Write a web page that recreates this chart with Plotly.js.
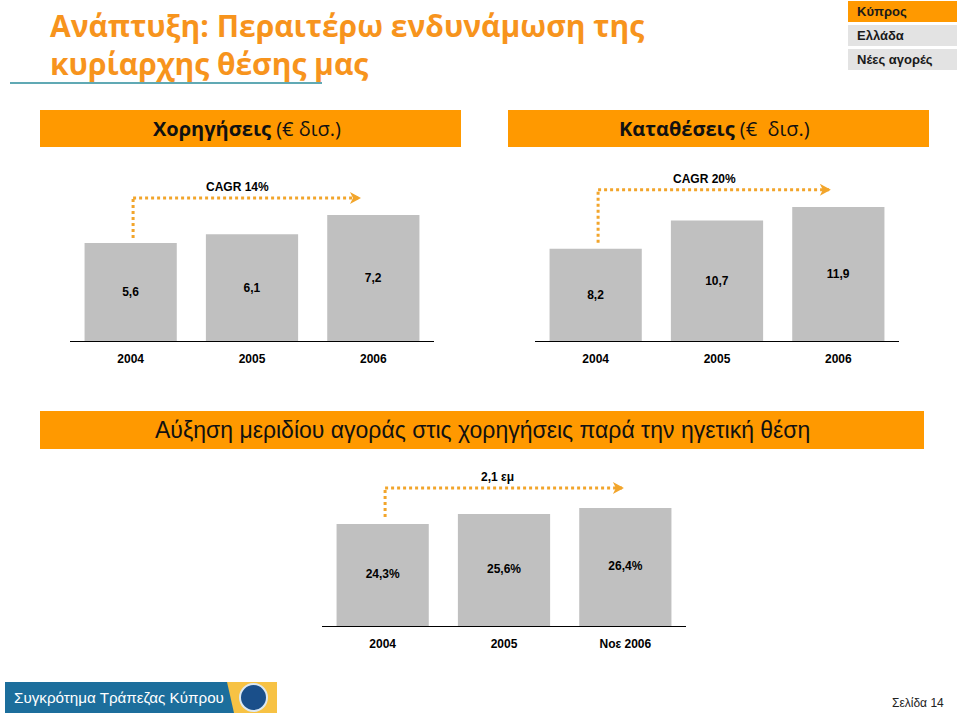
<!DOCTYPE html>
<html><head><meta charset="utf-8">
<script src="https://cdn.plot.ly/plotly-3.0.1.min.js"></script>
<style>html,body{margin:0;padding:0;background:#fff;}#chart{width:960px;height:715px;}</style>
</head><body><div id="chart"></div>
<script>
// ---- data ----
const loanYears = ['2004', '2005', '2006'];
const loanValues = [5.6, 6.1, 7.2];
const depositYears = ['2004', '2005', '2006'];
const depositValues = [8.2, 10.7, 11.9];
const shareYears = ['2004', '2005', 'Νοε 2006'];
const shareValues = [24.3, 25.6, 26.4];
const shareAxisBase = 10.9;
const growthLabels = ['CAGR 14%', 'CAGR 20%', '2,1 εμ'];
const titleLines = ['Ανάπτυξη: Περαιτέρω ενδυνάμωση της', 'κυρίαρχης θέσης μας'];
const navItems = ['Κύπρος', 'Ελλάδα', 'Νέες αγορές'];
const panelTitles = ['<b>Χορηγήσεις</b> (€ δισ.)', '<b>Καταθέσεις</b> (€  δισ.)', 'Αύξηση μεριδίου αγοράς στις χορηγήσεις παρά την ηγετική θέση'];
const footerText = 'Συγκρότημα Τράπεζας Κύπρου';
const pageText = 'Σελίδα 14';

// ---- layout helpers ----
const W = 960, H = 715;
const fx = v => v / W;
const fy = v => 1 - v / H;
const ORANGE = '#FF9900';
const GREY = '#C0C0C0';
const DOT = '#F2A52B';
const fmt = (v, suf) => v.toFixed(1).replace('.', ',') + (suf || '');
const LABEL_FONT = {family: 'Liberation Sans, Arial, sans-serif', size: 12, color: '#000', weight: 'bold'};

function barTrace(x, y, xa, ya, suf, withText) {
  const t = {
    type: 'bar', x: x, y: y, xaxis: xa, yaxis: ya,
    marker: {color: GREY, line: {width: 0}},
    hoverinfo: 'skip', cliponaxis: true
  };
  if (withText) {
    t.text = y.map(v => fmt(v, suf));
    t.textposition = 'inside';
    t.insidetextanchor = 'middle';
    t.textfont = LABEL_FONT;
    t.constraintext = 'none';
  } else {
    t.textposition = 'none';
  }
  return t;
}

const data = [
  barTrace(loanYears, loanValues, 'x', 'y', '', true),
  barTrace(depositYears, depositValues, 'x2', 'y2', '', true),
  barTrace(shareYears, shareValues, 'x3', 'y3', '%', false),
  {type: 'scatter', mode: 'text', x: shareYears, y: shareValues.map(v => (v + shareAxisBase) / 2),
   text: shareValues.map(v => fmt(v, '%')), textfont: LABEL_FONT, xaxis: 'x3', yaxis: 'y3', hoverinfo: 'skip', cliponaxis: false}
];

function xAxis(dom, anchor) {
  return {
    domain: dom, anchor: anchor, type: 'category', showgrid: false, zeroline: false,
    showline: true, linecolor: '#000', linewidth: 1,
    ticks: 'outside', ticklen: 7, tickcolor: 'rgba(0,0,0,0)',
    tickfont: LABEL_FONT, fixedrange: true
  };
}
// bottom pixel, pixel of the tallest bar top, extended domain top pixel
function yAxis(bottomPx, maxTopPx, domTopPx, lo, hi) {
  const ppu = (bottomPx - maxTopPx) / (hi - lo);
  return {domain: [fy(bottomPx), fy(domTopPx)], range: [lo, lo + (bottomPx - domTopPx) / ppu],
    visible: false, showgrid: false, zeroline: false, fixedrange: true};
}

const shapes = [];
const annotations = [];

// nav boxes
navItems.forEach((t, i) => {
  const top = 1 + i * 24;
  shapes.push({type: 'rect', xref: 'paper', yref: 'paper', x0: fx(848), x1: fx(957), y0: fy(top), y1: fy(top + 21),
    fillcolor: i === 0 ? ORANGE : '#E3E3E3', line: {width: 0}, layer: 'below'});
  annotations.push({xref: 'paper', yref: 'paper', x: fx(855), y: fy(top + 10.5), xanchor: 'left', yanchor: 'middle',
    text: '<b>' + t + '</b>', showarrow: false, font: {family: 'Liberation Sans, Arial, sans-serif', size: 13, color: '#1a1a1a'}});
});

// title
titleLines.forEach((t, i) => {
  annotations.push({xref: 'paper', yref: 'paper', x: fx(48), y: fy(i === 0 ? 25 : 64), xanchor: 'left', yanchor: 'middle',
    text: '<b>' + t + '</b>', showarrow: false, font: {family: 'Open Sans, DejaVu Sans, sans-serif', size: 30, color: '#F7941D'}});
});
shapes.push({type: 'line', xref: 'paper', yref: 'paper', x0: fx(10), x1: fx(322), y0: fy(83), y1: fy(83),
  line: {color: '#2B8C9B', width: 1.5}});

// panel header boxes
const headerBoxes = [[40, 461, 110, 147], [508, 929, 110, 147], [40, 924, 411, 449]];
headerBoxes.forEach((b, i) => {
  shapes.push({type: 'rect', xref: 'paper', yref: 'paper', x0: fx(b[0]), x1: fx(b[1]), y0: fy(b[2]), y1: fy(b[3]),
    fillcolor: ORANGE, line: {width: 0}, layer: 'below'});
  annotations.push({xref: 'paper', yref: 'paper', x: fx((b[0] + b[1]) / 2 + (i < 2 ? -4 : 0)), y: fy((b[2] + b[3]) / 2), xanchor: 'center', yanchor: 'middle',
    text: panelTitles[i], showarrow: false,
    font: i < 2 ? {family: 'Open Sans, DejaVu Sans, sans-serif', size: 20, color: '#111'}
                : {family: 'Liberation Sans, Arial, sans-serif', size: 23, color: '#111'}});
});

// growth connectors (dotted elbow arrows) anchored to first bar of each chart
const conn = [
  {xr: 'x', yr: 'y', v: loanValues[0], gap: 5, h: 45, end: 1.89, lx: 0.88},
  {xr: 'x2', yr: 'y2', v: depositValues[0], gap: 6, h: 59, end: 1.93, lx: 0.9},
  {xr: 'x3', yr: 'y3', v: shareValues[0], gap: 7, h: 36, end: 1.98, lx: 0.95}
];
conn.forEach((c, i) => {
  const dotLine = {color: DOT, width: 3, dash: '3px,3px'};
  shapes.push({type: 'line', xref: c.xr, yref: c.yr, ysizemode: 'pixel', yanchor: c.v,
    x0: 0.02, x1: 0.02, y0: c.gap, y1: c.h, line: dotLine});
  shapes.push({type: 'line', xref: c.xr, yref: c.yr, ysizemode: 'pixel', yanchor: c.v,
    x0: 0.02, x1: c.end, y0: c.h, y1: c.h, line: dotLine});
  shapes.push({type: 'path', xref: c.xr, yref: c.yr, xsizemode: 'pixel', xanchor: c.end, ysizemode: 'pixel', yanchor: c.v,
    path: 'M -10,' + (c.h + 6) + ' L 1,' + c.h + ' L -10,' + (c.h - 6) + ' L -7,' + c.h + ' Z',
    fillcolor: DOT, line: {width: 0}});
  annotations.push({xref: c.xr, yref: c.yr, x: c.lx, y: c.v, yshift: c.h + 11, xanchor: 'center', yanchor: 'middle',
    text: '<b>' + growthLabels[i] + '</b>', showarrow: false,
    font: {family: 'Liberation Sans, Arial, sans-serif', size: 12, color: '#000'}});
});

// footer logo
shapes.push({type: 'rect', xref: 'paper', yref: 'paper', x0: fx(5), x1: fx(277), y0: fy(713), y1: fy(682),
  fillcolor: '#F7C244', line: {width: 0}, layer: 'below'});
shapes.push({type: 'path', xref: 'paper', yref: 'paper',
  path: 'M ' + fx(5) + ',' + fy(682) + ' L ' + fx(227) + ',' + fy(682) + ' L ' + fx(234) + ',' + fy(713) + ' L ' + fx(5) + ',' + fy(713) + ' Z',
  fillcolor: '#1C6E9C', line: {width: 0}, layer: 'below'});
shapes.push({type: 'circle', xref: 'paper', yref: 'paper', x0: fx(240), x1: fx(267), y0: fy(711), y1: fy(684),
  fillcolor: '#1A4F8A', line: {color: '#DCE8F2', width: 2}});
annotations.push({xref: 'paper', yref: 'paper', x: fx(12), y: fy(697), xanchor: 'left', yanchor: 'middle',
  text: footerText, showarrow: false, font: {family: 'Liberation Sans, Arial, sans-serif', size: 15.2, color: '#fff'}});
annotations.push({xref: 'paper', yref: 'paper', x: fx(946), y: fy(703), xanchor: 'right', yanchor: 'middle',
  text: pageText, showarrow: false, font: {family: 'Liberation Sans, Arial, sans-serif', size: 12, color: '#222'}});

const layout = {
  width: W, height: H, margin: {l: 0, r: 0, t: 0, b: 0},
  paper_bgcolor: '#fff', plot_bgcolor: 'rgba(0,0,0,0)', showlegend: false,
  bargap: 0.24, hovermode: false,
  xaxis: xAxis([fx(70), fx(434)], 'y'),
  yaxis: yAxis(341, 215, 170, 0, Math.max(...loanValues)),
  xaxis2: xAxis([fx(535), fx(899)], 'y2'),
  yaxis2: yAxis(341, 207, 165, 0, Math.max(...depositValues)),
  xaxis3: xAxis([fx(322), fx(686)], 'y3'),
  yaxis3: yAxis(626, 508, 460, shareAxisBase, Math.max(...shareValues)),
  shapes: shapes, annotations: annotations
};

Plotly.newPlot('chart', data, layout, {staticPlot: true, displayModeBar: false});
</script></body></html>
